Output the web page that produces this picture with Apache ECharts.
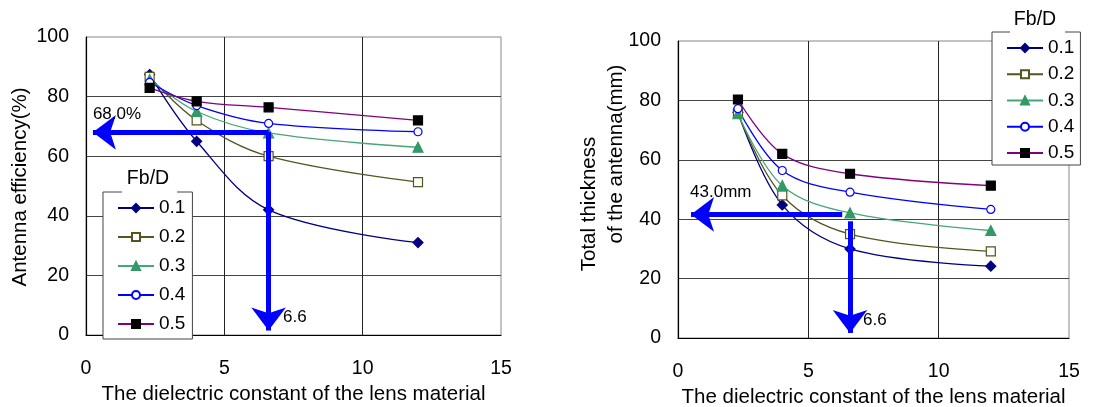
<!DOCTYPE html>
<html><head><meta charset="utf-8">
<script src="https://cdn.jsdelivr.net/npm/echarts@6/dist/echarts.min.js"></script>
<style>html,body{margin:0;padding:0;background:#fff}#c{width:1120px;height:407px}</style>
</head><body><div id="c"></div>
<script>
// ---- data ----
const xValues = [2.3, 4, 6.6, 12];
const seriesNames = ['0.1', '0.2', '0.3', '0.4', '0.5'];
// Left: antenna efficiency (%)
const eff01 = [87.4, 65.0, 42.0, 31.0];
const eff02 = [86.6, 72.0, 60.0, 51.3];
const eff03 = [85.7, 75.0, 67.8, 63.0];
const eff04 = [84.8, 77.0, 71.0, 68.2];
const eff05 = [82.9, 78.4, 76.4, 72.0];
// Right: total thickness of antenna (mm)
const thk01 = [76.0, 44.8, 30.0, 24.2];
const thk02 = [75.7, 48.0, 35.0, 29.2];
const thk03 = [75.5, 51.3, 42.1, 36.2];
const thk04 = [77.2, 56.4, 49.1, 43.3];
const thk05 = [80.3, 62.0, 55.3, 51.3];
// annotation arrows (data coords)
const effArrowH = [[6.6, 68], [0.25, 68]];
const effArrowV = [[6.6, 68], [6.6, 1.5]];
const thkArrowH = [[6.3, 41.6], [0.5, 41.6]];
const thkArrowV = [[6.6, 39.3], [6.6, 1.7]];
const effLabels = [{ text: '68.0%', at: [1.12, 73.9] }, { text: '6.6', at: [7.55, 5.8] }];
const thkLabels = [{ text: '43.0mm', at: [1.64, 49.0] }, { text: '6.6', at: [7.55, 5.8] }];
const xTicks = [0, 5, 10, 15];
const yTicks = [0, 20, 40, 60, 80, 100];

const FONT = "'Liberation Sans',Arial,sans-serif";
const styles = [
  { line: '#000080', symbol: 'diamond', size: 10, fill: '#000080', border: '#000080' },
  { line: '#55551f', symbol: 'rect', size: 9, fill: '#ffffff', border: '#55551f' },
  { line: '#45a676', symbol: 'triangle', size: 10, fill: '#339966', border: '#339966' },
  { line: '#0000ff', symbol: 'circle', size: 8, fill: '#ffffff', border: '#0000ff' },
  { line: '#800080', symbol: 'rect', size: 9, fill: '#000000', border: '#000000' }
];
const effData = [eff01, eff02, eff03, eff04, eff05];
const thkData = [thk01, thk02, thk03, thk04, thk05];

function mkSeries(arr, idx) {
  return arr.map((vals, i) => ({
    name: seriesNames[i], type: 'line', xAxisIndex: idx, yAxisIndex: idx,
    data: xValues.map((x, k) => [x, vals[k]]),
    smooth: 0.35, symbol: styles[i].symbol, symbolSize: styles[i].size,
    showAllSymbol: true, z: 3,
    lineStyle: { color: styles[i].line, width: 1.3 },
    itemStyle: { color: styles[i].fill, borderColor: styles[i].border, borderWidth: 1.2 }
  }));
}
function arrowSeries(idx, h, v, labels) {
  return {
    name: 'arrows' + idx, type: 'line', xAxisIndex: idx, yAxisIndex: idx, data: [], z: 10,
    markLine: {
      silent: true, animation: false, symbol: ['none', 'arrow'], symbolSize: [26, 23],
      lineStyle: { color: '#0000ff', width: 5, type: 'solid' }, label: { show: false },
      emphasis: { disabled: true },
      data: [[{ coord: h[0] }, { coord: h[1] }], [{ coord: v[0] }, { coord: v[1] }]]
    },
    markPoint: {
      silent: true, animation: false, symbol: 'circle', symbolSize: 0,
      label: { show: true, position: 'inside', formatter: '{b}', color: '#000', fontSize: 17, fontFamily: FONT },
      data: labels.map(l => ({ name: l.text, coord: l.at }))
    }
  };
}
function xAx(idx) {
  return {
    type: 'value', gridIndex: idx, min: 0, max: 15, interval: 5,
    name: 'The dielectric constant of the lens material', nameLocation: 'middle', nameGap: idx ? 49 : 45,
    nameTextStyle: { fontSize: 20.5, fontFamily: FONT, color: '#000' },
    axisLine: { show: true, onZero: false, lineStyle: { color: '#000', width: 1.2 } },
    axisTick: { show: false },
    axisLabel: { margin: 24, fontSize: 19.5, fontFamily: FONT, color: '#000', formatter: v => xTicks.includes(v) ? String(v) : '' },
    splitLine: { show: true, showMinLine: false, showMaxLine: false, lineStyle: { color: '#222', width: 1 } }
  };
}
function yAx(idx) {
  return {
    type: 'value', gridIndex: idx, min: 0, max: 100, interval: 20,
    axisLine: { show: true, onZero: false, lineStyle: { color: '#000', width: 1.2 } },
    axisTick: { show: false },
    axisLabel: { margin: 17, fontSize: 19.5, fontFamily: FONT, color: '#000', formatter: v => yTicks.includes(v) ? String(v) : '' },
    splitLine: { show: true, showMinLine: false, showMaxLine: false, lineStyle: { color: '#444', width: 1 } }
  };
}
function legendCfg(left, top, pad, gap) {
  return {
    data: seriesNames, orient: 'vertical', left: left, top: top, padding: pad,
    itemWidth: 36, itemHeight: 10, itemGap: gap, selectedMode: false,
    backgroundColor: '#fff', borderColor: '#444', borderWidth: 1,
    textStyle: { fontSize: 19, lineHeight: 22, fontFamily: FONT, color: '#000', padding: [0, 0, 0, 0] }
  };
}
const chart = echarts.init(document.getElementById('c'), null, { renderer: 'canvas' });
chart.setOption({
  animation: false,
  backgroundColor: '#fff',
  grid: [
    { left: 86, top: 37, width: 415, height: 298, show: true, borderColor: '#888', borderWidth: 1, containLabel: false, outerBoundsMode: 'none' },
    { left: 678, top: 41, width: 391, height: 297, show: true, borderColor: '#888', borderWidth: 1, containLabel: false, outerBoundsMode: 'none' }
  ],
  xAxis: [xAx(0), xAx(1)],
  yAxis: [yAx(0), yAx(1)],
  legend: [legendCfg(103, 192, [5, 7, 4, 14], 7), legendCfg(992, 32, [5, 6, 1, 14], 4.25)],
  graphic: [
    { type: 'text', z: 50, x: 20, y: 187, rotation: Math.PI / 2,
      style: { text: 'Antenna efficiency(%)', fontSize: 20.5, fontFamily: FONT, fill: '#000', align: 'center', verticalAlign: 'middle' } },
    { type: 'text', z: 50, x: 589, y: 204, rotation: Math.PI / 2,
      style: { text: 'Total thickness', fontSize: 20.5, fontFamily: FONT, fill: '#000', align: 'center', verticalAlign: 'middle' } },
    { type: 'text', z: 50, x: 616, y: 154, rotation: Math.PI / 2,
      style: { text: 'of the antenna(mm)', fontSize: 20.5, fontFamily: FONT, fill: '#000', align: 'center', verticalAlign: 'middle' } },
    { type: 'rect', z: 50, shape: { x: 122, y: 189, width: 55, height: 6 }, style: { fill: '#fff' } },
    { type: 'text', z: 51, x: 148, y: 179,
      style: { text: 'Fb/D', fontSize: 19.5, fontFamily: FONT, fill: '#000', align: 'center', verticalAlign: 'middle' } },
    { type: 'rect', z: 50, shape: { x: 1010, y: 29, width: 55, height: 6 }, style: { fill: '#fff' } },
    { type: 'text', z: 51, x: 1035, y: 20,
      style: { text: 'Fb/D', fontSize: 19.5, fontFamily: FONT, fill: '#000', align: 'center', verticalAlign: 'middle' } }
  ],
  series: [
    ...mkSeries(effData, 0), ...mkSeries(thkData, 1),
    arrowSeries(0, effArrowH, effArrowV, effLabels),
    arrowSeries(1, thkArrowH, thkArrowV, thkLabels)
  ]
});
</script></body></html>
